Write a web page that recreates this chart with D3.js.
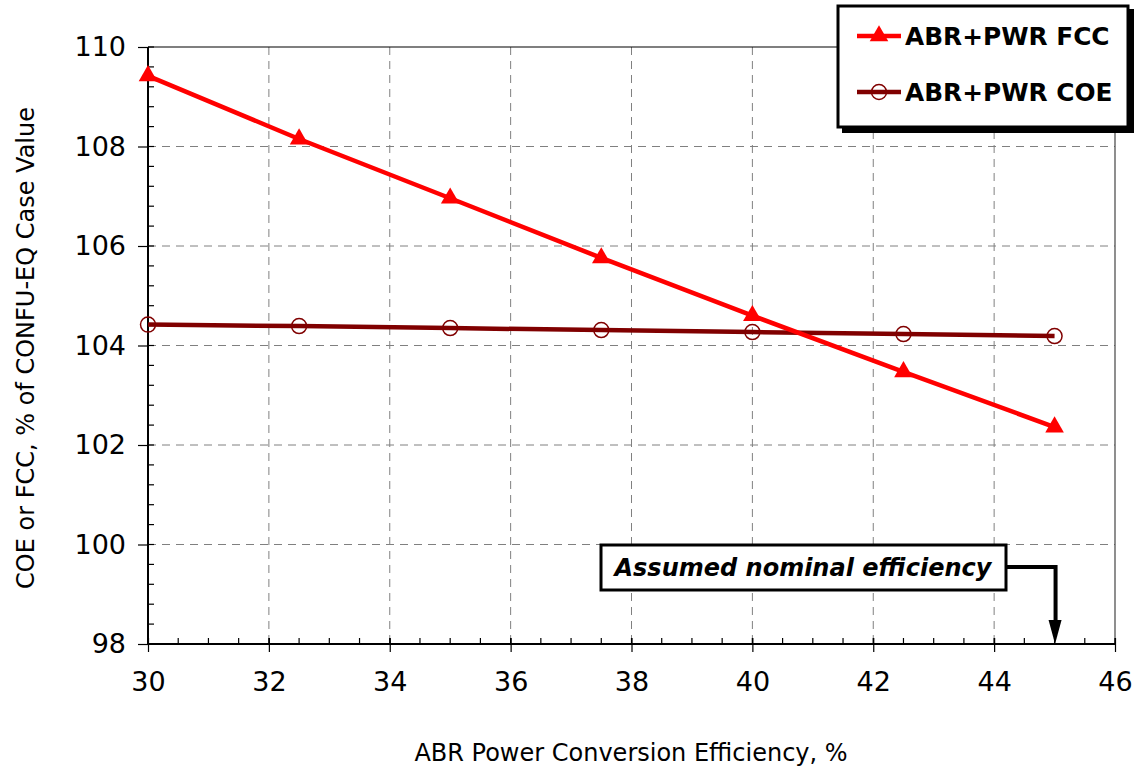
<!DOCTYPE html>
<html>
<head>
<meta charset="utf-8">
<script src="https://cdn.jsdelivr.net/npm/d3@7"></script>
<style>
  html, body { margin: 0; padding: 0; background: #fff; }
  svg { display: block; }
  text { font-family: "DejaVu Sans", Verdana, sans-serif; }
</style>
</head>
<body>
<svg id="chart" width="1137" height="771"></svg>
<script>
// Efficiency cases (%)
const efficiency = [30, 32.5, 35, 37.5, 40, 42.5, 45];
// Fuel cycle cost, % of CONFU-EQ case value
const fccValues = [109.42, 108.15, 106.96, 105.76, 104.6, 103.47, 102.36];
// Cost of electricity, % of CONFU-EQ case value
const coeValues = [104.42, 104.39, 104.35, 104.31, 104.27, 104.23, 104.19];

const xTicks = [30, 32, 34, 36, 38, 40, 42, 44, 46];
const yTicks = [98, 100, 102, 104, 106, 108, 110];
const nominalEfficiency = 45;

const seriesNames = ["ABR+PWR FCC", "ABR+PWR COE"];
const TICK_FONT = "'DejaVu Sans Condensed', 'DejaVu Sans', sans-serif";

const svg = d3.select("#chart");
const m = { left: 148, right: 1115, top: 47, bottom: 644 };

const x = d3.scaleLinear().domain([30, 46]).range([m.left, m.right]);
const y = d3.scaleLinear().domain([98, 110]).range([m.bottom, m.top]);

// grid
const grid = svg.append("g");
grid.selectAll("line.gx").data(xTicks.slice(1, -1)).join("line")
  .attr("x1", d => x(d)).attr("x2", d => x(d))
  .attr("y1", m.top).attr("y2", m.bottom)
  .attr("stroke", "#808080").attr("stroke-width", 1).attr("stroke-dasharray", "8,6");
grid.selectAll("line.gy").data(yTicks.slice(1, -1)).join("line")
  .attr("y1", d => y(d)).attr("y2", d => y(d))
  .attr("x1", m.left).attr("x2", m.right)
  .attr("stroke", "#808080").attr("stroke-width", 1).attr("stroke-dasharray", "8,6");

// frame top / right
svg.append("line").attr("x1", m.left).attr("x2", m.right).attr("y1", m.top).attr("y2", m.top)
  .attr("stroke", "#000").attr("stroke-width", 1.2);
svg.append("line").attr("x1", m.right).attr("x2", m.right).attr("y1", m.top).attr("y2", m.bottom)
  .attr("stroke", "#444").attr("stroke-width", 1.2);

// minor ticks
const xMinor = d3.range(30, 46.001, 0.5);
svg.append("g").selectAll("line").data(xMinor).join("line")
  .attr("x1", d => x(d)).attr("x2", d => x(d))
  .attr("y1", m.bottom).attr("y2", m.bottom - 6)
  .attr("stroke", "#000").attr("stroke-width", 1.2);
const yMinor = d3.range(98, 110.001, 0.4);
svg.append("g").selectAll("line").data(yMinor).join("line")
  .attr("y1", d => y(d)).attr("y2", d => y(d))
  .attr("x1", m.left).attr("x2", m.left + 6)
  .attr("stroke", "#000").attr("stroke-width", 1.2);

// axes
const xAxis = d3.axisBottom(x).tickValues(xTicks).tickSize(8).tickPadding(20).tickFormat(d3.format("d"));
const gx = svg.append("g").attr("transform", `translate(0,${m.bottom})`).call(xAxis);
gx.select(".domain").attr("stroke", "#000").attr("stroke-width", 2).attr("d", `M${m.left},0H${m.right}`);
gx.selectAll(".tick line").attr("stroke", "#000").attr("stroke-width", 1.2).attr("y1", -6);
gx.selectAll(".tick text").attr("font-size", 27).attr("fill", "#000").attr("font-family", TICK_FONT);

const yAxis = d3.axisLeft(y).tickValues(yTicks).tickSize(10).tickPadding(12).tickFormat(d3.format("d"));
const gy = svg.append("g").attr("transform", `translate(${m.left},0)`).call(yAxis);
gy.select(".domain").attr("stroke", "#000").attr("stroke-width", 2).attr("d", `M0,${m.top}V${m.bottom}`);
gy.selectAll(".tick line").attr("stroke", "#000").attr("stroke-width", 1.2);
gy.selectAll(".tick text").attr("font-size", 27).attr("fill", "#000").attr("font-family", TICK_FONT);

// axis titles
svg.append("text").attr("x", 631).attr("y", 761).attr("text-anchor", "middle")
  .attr("font-size", 24).text("ABR Power Conversion Efficiency, %");
svg.append("text").attr("transform", "translate(34,348) rotate(-90)").attr("text-anchor", "middle")
  .attr("font-size", 24).text("COE or FCC, % of CONFU-EQ Case Value");

// series lines
const fccColor = "#ff0000";
const coeColor = "#800000";
const line = d3.line().x(d => x(d[0])).y(d => y(d[1]));

const fccData = efficiency.map((e, i) => [e, fccValues[i]]);
const coeData = efficiency.map((e, i) => [e, coeValues[i]]);

svg.append("path").datum(coeData).attr("d", line).attr("fill", "none")
  .attr("stroke", coeColor).attr("stroke-width", 4.5);
svg.append("g").selectAll("circle").data(coeData).join("circle")
  .attr("cx", d => x(d[0])).attr("cy", d => y(d[1])).attr("r", 7.5)
  .attr("fill", "none").attr("stroke", coeColor).attr("stroke-width", 1.5);

svg.append("path").datum(fccData).attr("d", line).attr("fill", "none")
  .attr("stroke", fccColor).attr("stroke-width", 4.5);
const tri = d3.symbol().type(d3.symbolTriangle).size(150);
svg.append("g").selectAll("path").data(fccData).join("path")
  .attr("transform", d => `translate(${x(d[0])},${y(d[1])})`)
  .attr("d", tri).attr("fill", fccColor);

// annotation
const ann = svg.append("g");
ann.append("rect").attr("x", 601).attr("y", 545).attr("width", 405).attr("height", 45)
  .attr("fill", "#fff").attr("stroke", "#000").attr("stroke-width", 3);
ann.append("text").attr("x", 803).attr("y", 576).attr("text-anchor", "middle")
  .attr("font-size", 24).attr("font-weight", "bold").attr("font-style", "italic")
  .text("Assumed nominal efficiency");
ann.append("path")
  .attr("d", `M1006,567H${x(nominalEfficiency) + 1}V${m.bottom - 22}`)
  .attr("fill", "none").attr("stroke", "#000").attr("stroke-width", 4);
ann.append("path")
  .attr("d", `M${x(nominalEfficiency) - 6},${m.bottom - 24}L${x(nominalEfficiency) + 7},${m.bottom - 24}L${x(nominalEfficiency) + 0.5},${m.bottom}Z`)
  .attr("fill", "#000");

// legend
const lg = svg.append("g");
lg.append("rect").attr("x", 842).attr("y", 9).attr("width", 292).attr("height", 124).attr("fill", "#000");
lg.append("rect").attr("x", 838).attr("y", 6).attr("width", 290).attr("height", 121)
  .attr("fill", "#fff").attr("stroke", "#000").attr("stroke-width", 3);

const lgItems = [
  { name: seriesNames[0], color: fccColor, y: 36, marker: "tri" },
  { name: seriesNames[1], color: coeColor, y: 92, marker: "circle" }
];
lgItems.forEach(it => {
  lg.append("line").attr("x1", 857).attr("x2", 901).attr("y1", it.y).attr("y2", it.y)
    .attr("stroke", it.color).attr("stroke-width", 4.5);
  if (it.marker === "tri") {
    lg.append("path").attr("transform", `translate(879,${it.y})`).attr("d", tri).attr("fill", it.color);
  } else {
    lg.append("circle").attr("cx", 879).attr("cy", it.y).attr("r", 7.5)
      .attr("fill", "none").attr("stroke", it.color).attr("stroke-width", 1.5);
  }
  lg.append("text").attr("x", 905).attr("y", it.y + 9).attr("font-size", 24.8)
    .attr("font-weight", "bold").text(it.name);
});
</script>
</body>
</html>
